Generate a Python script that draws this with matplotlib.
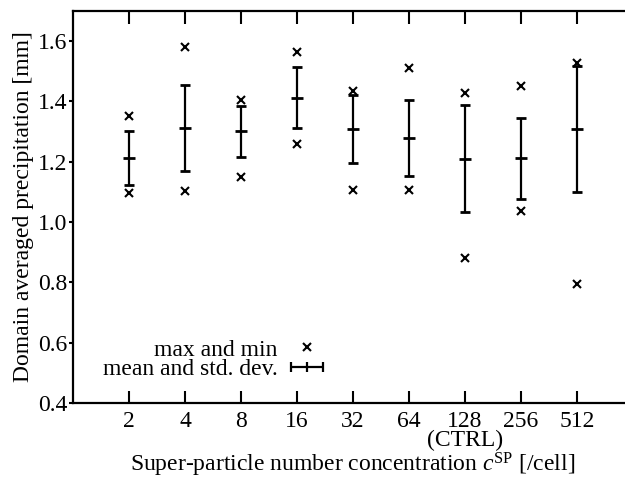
"""Domain averaged precipitation vs super-particle number concentration."""
import numpy as np
import matplotlib
matplotlib.use("Agg")
import matplotlib.pyplot as plt
from matplotlib.container import ErrorbarContainer
from matplotlib.legend_handler import HandlerErrorbar

plt.rcParams['font.family'] = ['Liberation Serif', 'DejaVu Serif']
plt.rcParams['mathtext.fontset'] = 'custom'
plt.rcParams['mathtext.rm'] = 'Liberation Serif'
plt.rcParams['mathtext.it'] = 'Liberation Serif:italic'
plt.rcParams['font.size'] = 17

CSP = [2, 4, 8, 16, 32, 64, 128, 256, 512]
TICKLABELS = ["2", "4", "8", "16", "32", "64", "128\n(CTRL)", "256", "512"]
P_MAX = [1.352, 1.579, 1.405, 1.565, 1.436, 1.512, 1.429, 1.451, 1.526]
P_MIN = [1.097, 1.103, 1.151, 1.259, 1.108, 1.106, 0.880, 1.036, 0.796]
P_MEAN = [1.212, 1.312, 1.301, 1.413, 1.309, 1.279, 1.210, 1.212, 1.309]
P_STD = [0.090, 0.144, 0.084, 0.102, 0.114, 0.126, 0.178, 0.134, 0.209]

x = np.log2(CSP)

fig = plt.figure(figsize=(6.25, 4.79), dpi=100)
ax = fig.add_axes([0.1168, 0.1587, 0.896, 0.8183])

ax.plot(x, P_MAX, 'x', color='black', ms=5.5, mew=1.5, zorder=4)
ax.plot(x, P_MIN, 'x', color='black', ms=5.5, mew=1.5, zorder=4)
ax.errorbar(x, P_MEAN, yerr=P_STD, fmt='_', color='black', ms=9, mew=2,
            elinewidth=1.6, capsize=3.5, capthick=1.6, zorder=3)

# legend proxies (gnuplot style: text first, sample after)
h_mm, = ax.plot([np.nan], [np.nan], 'x', color='black', ms=5.5, mew=1.5)
h_ms = ax.errorbar([np.nan], [np.nan], xerr=[1], fmt='|', color='black', ms=7, mew=1.6,
                   elinewidth=1.6, capsize=3.5, capthick=1.6)
ax.legend([h_mm, h_ms], ["max and min", "mean and std. dev."], loc='lower right',
          bbox_to_anchor=(0.447, 0.058), markerfirst=False, frameon=False,
          borderaxespad=0, borderpad=0, labelspacing=-0.08, handlelength=1.4,
          handletextpad=0.55, fontsize=17,
          handler_map={ErrorbarContainer: HandlerErrorbar(xerr_size=0.68)})

ax.set_xlim(0, 10)
ax.set_ylim(0.4, 1.7)
ax.set_xticks(x)
ax.set_xticklabels(TICKLABELS, linespacing=0.85)
ax.set_yticks([0.4, 0.6, 0.8, 1.0, 1.2, 1.4, 1.6])
ax.set_yticklabels(["0.4", "0.6", "0.8", "1.0", "1.2", "1.4", "1.6"])
ax.tick_params(axis='x', direction='in', top=True, length=9, width=1.5, pad=6)
ax.tick_params(axis='y', direction='out', length=3, width=1.5, pad=1)
for s in ax.spines.values():
    s.set_linewidth(1.6)

ax.set_xlabel(r"Super-particle number concentration $c^{\mathrm{SP}}$ [/cell]", labelpad=0)
ax.set_ylabel("Domain averaged precipitation [mm]", labelpad=3)

fig.savefig("out.png", dpi=100)
